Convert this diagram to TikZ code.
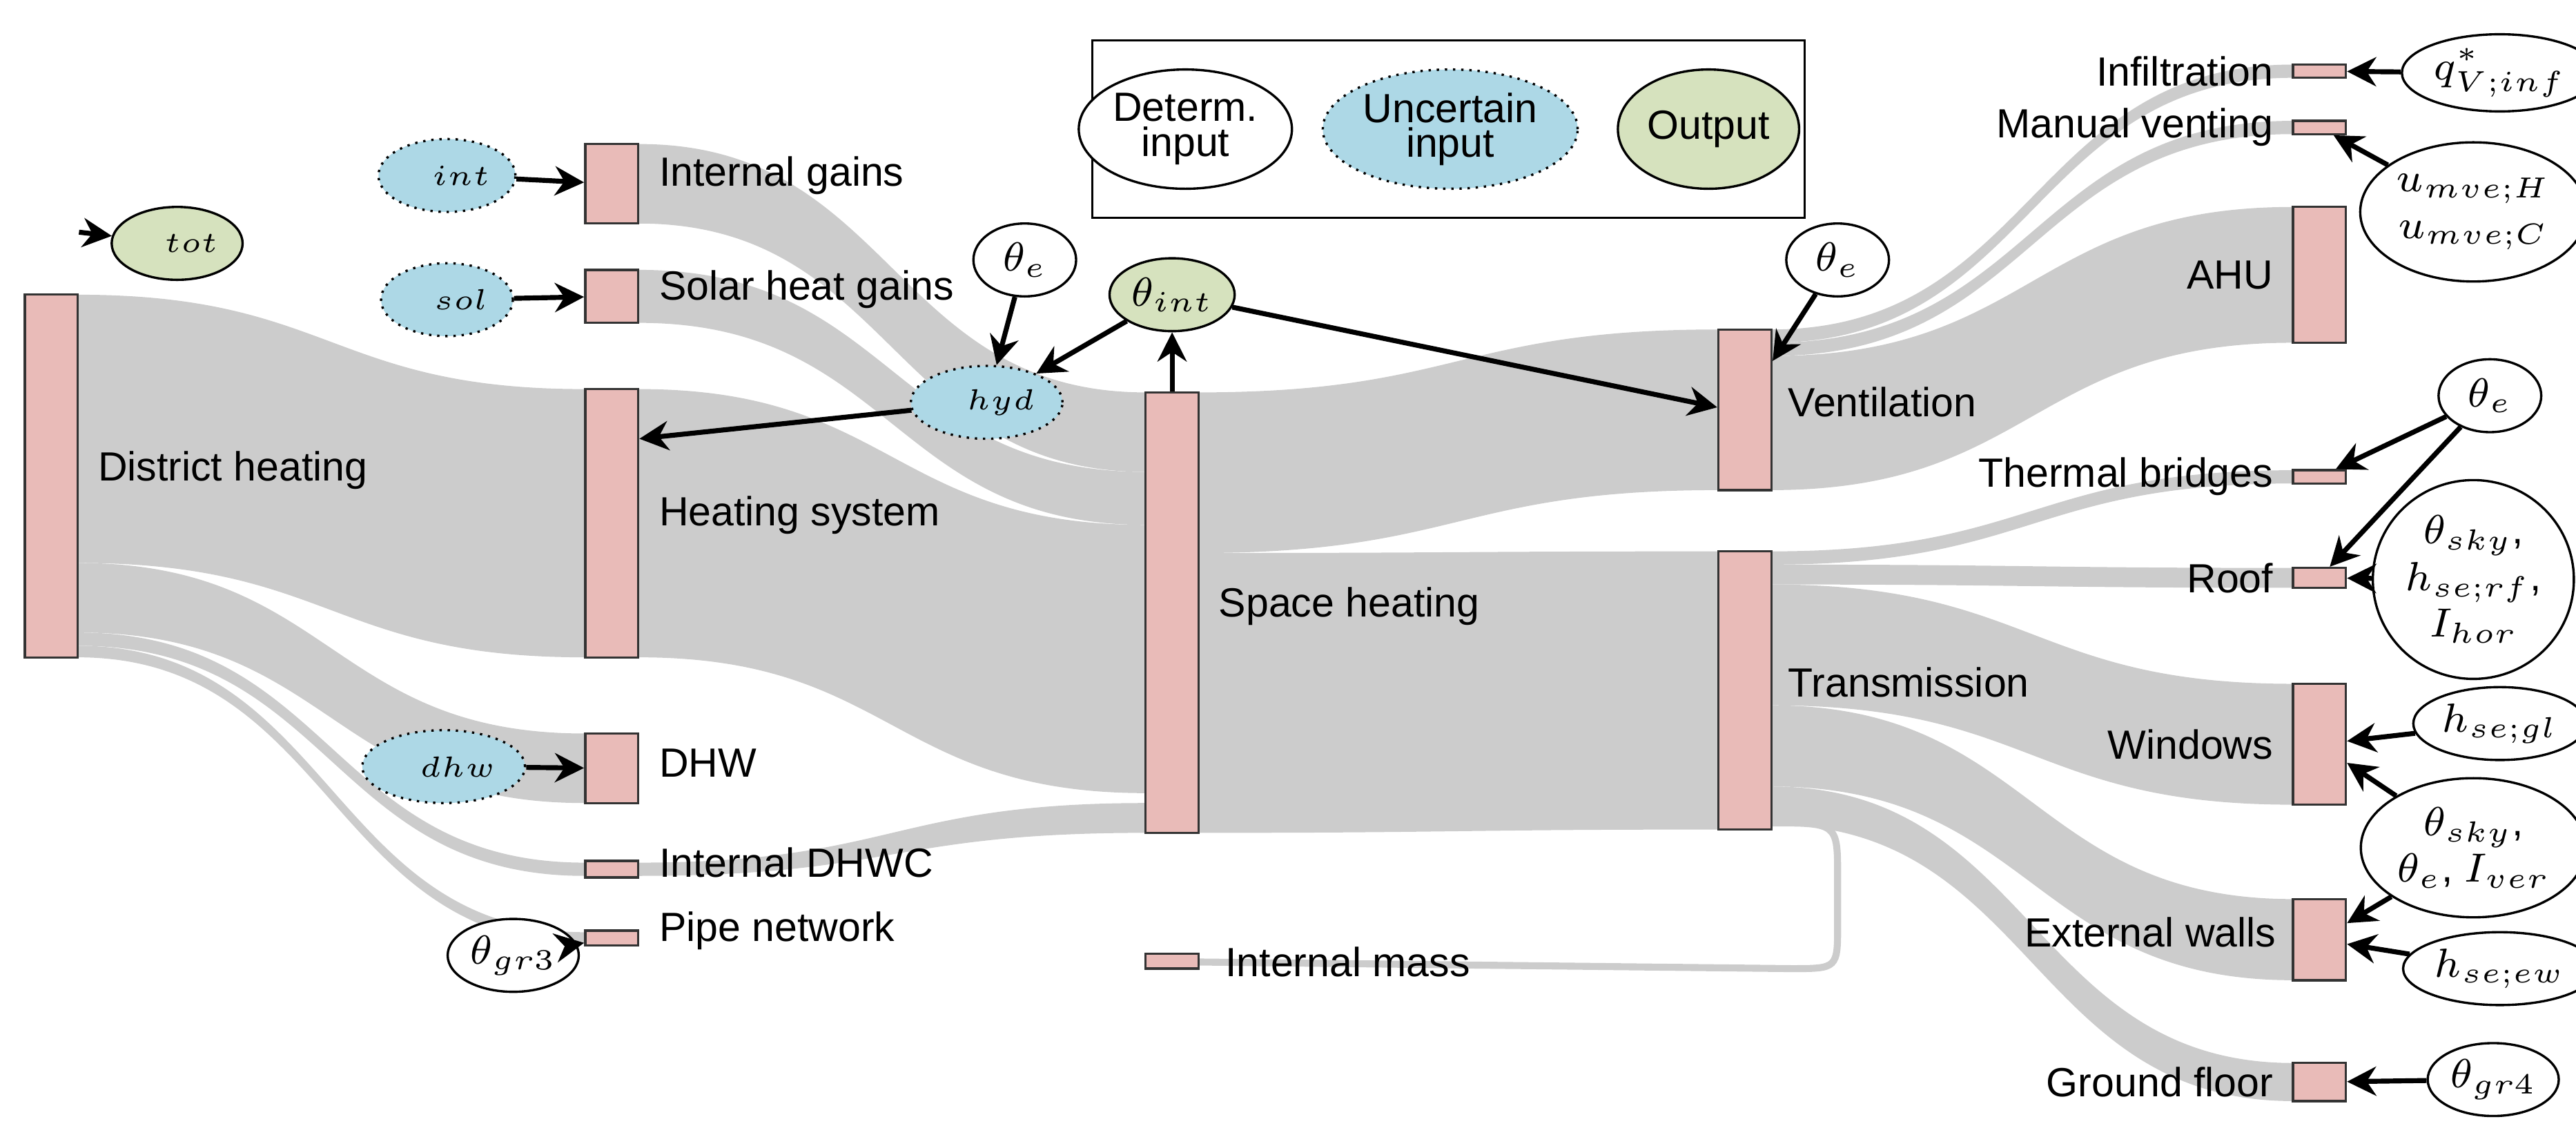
\documentclass[tikz,border=0pt]{standalone}
\usepackage{fontspec}
\setmainfont{Liberation Sans}
\usetikzlibrary{positioning,arrows.meta,shapes.geometric}
\definecolor{blkfill}{RGB}{233,187,184}
\definecolor{flowgray}{RGB}{204,204,204}
\definecolor{uncblue}{RGB}{173,216,230}
\definecolor{outgreen}{RGB}{214,226,190}
\newcommand{\flow}[6]{%
  \fill[flowgray] (#1,#2) .. controls ({(#1+#4)/2},#2) and ({(#1+#4)/2},#5) .. (#4,#5)
    -- (#4,#6) .. controls ({(#1+#4)/2},#6) and ({(#1+#4)/2},#3) .. (#1,#3) -- cycle;}
\newcommand{\blk}[5]{%
  \node[blk, minimum height={(#5-#3)*0.1mm}] (#1) at ({(#2+#4)/2},{(#3+#5)/2}) {};}
\begin{document}
\begin{tikzpicture}[
        x=0.01cm, y=-0.01cm,
        font=\fontsize{7}{8}\selectfont,
        blk/.style={
            rectangle,
            draw=black!80,
            fill=blkfill,
            line width=0.4pt,
            minimum width=0.32cm,
            inner sep=0pt
        },
        lbl/.style={
            inner sep=1pt
        },
        det/.style={
            ellipse,
            draw,
            fill=white,
            minimum width=0.62cm,
            minimum height=0.44cm,
            inner sep=0.5pt,
            align=center
        },
        unc/.style={det, fill=uncblue, densely dotted},
        outp/.style={det, fill=outgreen},
        arrow/.style={
            -{Stealth[length=5pt,width=5pt]},
            line width=0.85pt
        }
    ]
    \useasboundingbox (0,0) rectangle (1556,692);

    % Flows
    \flow{47}{178}{340}{353}{235}{397}
    \flow{47}{340}{382}{353}{443}{485}
    \flow{47}{382}{390}{353}{521}{529}
    \flow{47}{390}{397}{353}{563}{570}
    \flow{386}{87}{135}{692}{237}{285}
    \flow{386}{163}{195}{692}{285}{317}
    \flow{386}{235}{397}{692}{317}{479}
    \flow{386}{521}{529}{692}{485}{503}
    \flow{724}{237}{334}{1038}{199}{296}
    \flow{724}{334}{503}{1038}{333}{501}
    \flow{1070}{199}{207}{1385}{39}{47}
    \flow{1070}{207}{215}{1385}{73}{81}
    \flow{1070}{215}{296}{1385}{125}{207}
    \flow{1070}{333}{341}{1385}{284}{292}
    \flow{1070}{341}{353}{1385}{343}{355}
    \flow{1070}{353}{426}{1385}{413}{486}
    \flow{1070}{426}{475}{1385}{543}{592}
    \flow{1070}{475}{498}{1385}{642}{665}
    \draw[flowgray, line width=1.2pt] (1070,497) .. controls (1110,497) .. (1110,530)
        -- (1110,558) .. controls (1110,585) .. (1082,585) -- (724,581);

    % Blocks
    \blk{dh}{15}{178}{47}{397}
    \blk{igain}{353}{87}{386}{135}
    \blk{sgain}{353}{163}{386}{195}
    \blk{hsys}{353}{235}{386}{397}
    \blk{dhw}{353}{443}{386}{485}
    \blk{dhwc}{353}{520}{386}{530}
    \blk{pipe}{353}{562}{386}{571}
    \blk{sh}{692}{237}{724}{503}
    \blk{imass}{692}{576}{724}{585}
    \blk{vent}{1038}{199}{1070}{296}
    \blk{trans}{1038}{333}{1070}{501}
    \blk{infil}{1385}{39}{1417}{47}
    \blk{mvent}{1385}{73}{1417}{81}
    \blk{ahu}{1385}{125}{1417}{207}
    \blk{tbr}{1385}{284}{1417}{292}
    \blk{roof}{1385}{343}{1417}{355}
    \blk{win}{1385}{413}{1417}{486}
    \blk{ewall}{1385}{543}{1417}{592}
    \blk{gfl}{1385}{642}{1417}{665}

    % Block labels
    \node[lbl, anchor=west] at (55,284) {District heating};
    \node[lbl, anchor=west] at (394,106) {Internal gains};
    \node[lbl, anchor=west] at (394,175) {Solar heat gains};
    \node[lbl, anchor=west] at (394,311) {Heating system};
    \node[lbl, anchor=west] at (394,461) {DHW};
    \node[lbl, anchor=west] at (394,521) {Internal DHWC};
    \node[lbl, anchor=west] at (394,562) {Pipe network};
    \node[lbl, anchor=west] at (732,366) {Space heating};
    \node[lbl, anchor=west] at (736,581) {Internal mass};
    \node[lbl, anchor=west] at (1076,243) {Ventilation};
    \node[lbl, anchor=west] at (1076,412) {Transmission};
    \node[lbl, left=2pt of infil] {Infiltration};
    \node[lbl, left=2pt of mvent] {Manual venting};
    \node[lbl, left=2pt of ahu] {AHU};
    \node[lbl, left=2pt of tbr] {Thermal bridges};
    \node[lbl, left=2pt of roof] {Roof};
    \node[lbl, left=2pt of win] {Windows};
    \node[lbl, anchor=east] at (1379,563) {External walls};
    \node[lbl, left=2pt of gfl] {Ground floor};

    % Legend
    \node[draw, minimum width=4.3cm, minimum height=1.07cm] (legend) at (875,78) {};
    \node[det, minimum width=0.9cm, minimum height=0.72cm] (ldet) at (716,78) {Determ.\\[-2pt]input};
    \node[unc, minimum width=1.12cm, minimum height=0.72cm] (lunc) at (876,78) {Uncertain\\[-2pt]input};
    \node[outp, minimum width=0.92cm, minimum height=0.72cm] (lout) at (1032,78) {Output};

    % Inputs and outputs
    \node[outp] (phitot) at (107,147) {$\mathit{\Phi}_{tot}$};
    \node[unc] (phiint) at (270,106) {$\mathit{\Phi}_{int}$};
    \node[unc] (phisol) at (270,181) {$\mathit{\Phi}_{sol}$};
    \node[det] (the1) at (619,157) {$\theta_e$};
    \node[unc] (phihyd) at (596,243) {$\mathit{\Phi}_{hyd}$};
    \node[outp] (thint) at (708,178) {$\theta_{int}$};
    \node[det] (the2) at (1110,157) {$\theta_e$};
    \node[unc] (phidhw) at (268,463) {$\mathit{\Phi}_{dhw}$};
    \node[det] (thgr3) at (310,577) {$\theta_{gr3}$};
    \node[det] (qinf) at (1510,44) {$q^{*}_{V;inf}$};
    \node[det, minimum height=0.84cm] (umve) at (1494,128) {$u_{mve;H}$\\$u_{mve;C}$};
    \node[det] (the3) at (1504,239) {$\theta_e$};
    \node[det, minimum height=1.2cm] (rfin) at (1494,350) {$\theta_{sky}$,\\$h_{se;rf}$,\\$I_{hor}$};
    \node[det] (hgl) at (1510,437) {$h_{se;gl}$};
    \node[det, minimum height=0.84cm] (verin) at (1494,512) {$\theta_{sky}$,\\$\theta_e$, $I_{ver}$};
    \node[det] (hew) at (1510,585) {$h_{se;ew}$};
    \node[det] (thgr4) at (1506,652) {$\theta_{gr4}$};

    % Arrows
    \draw[arrow] (dh.north east) ++(0,-37) -- (phitot);
    \draw[arrow] (phiint) -- (igain);
    \draw[arrow] (phisol) -- (sgain);
    \draw[arrow] (the1) -- (phihyd);
    \draw[arrow] (thint) -- (phihyd);
    \draw[arrow] (phihyd) -- (hsys.east |- 0,265);
    \draw[arrow] (sh) -- (thint);
    \draw[arrow] (thint) -- (vent.west |- 0,246);
    \draw[arrow] (the2) -- (vent.east |- 0,218);
    \draw[arrow] (phidhw) -- (dhw);
    \draw[arrow] (thgr3) -- (pipe);
    \draw[arrow] (qinf) -- (infil);
    \draw[arrow] (umve) -- (mvent);
    \draw[arrow] (the3) -- (tbr);
    \draw[arrow] (the3) -- (roof);
    \draw[arrow] (rfin) -- (roof);
    \draw[arrow] (hgl) -- (win);
    \draw[arrow] (verin) -- (win);
    \draw[arrow] (verin) -- (ewall);
    \draw[arrow] (hew) -- (ewall);
    \draw[arrow] (thgr4) -- (gfl);
\end{tikzpicture}
\end{document}
